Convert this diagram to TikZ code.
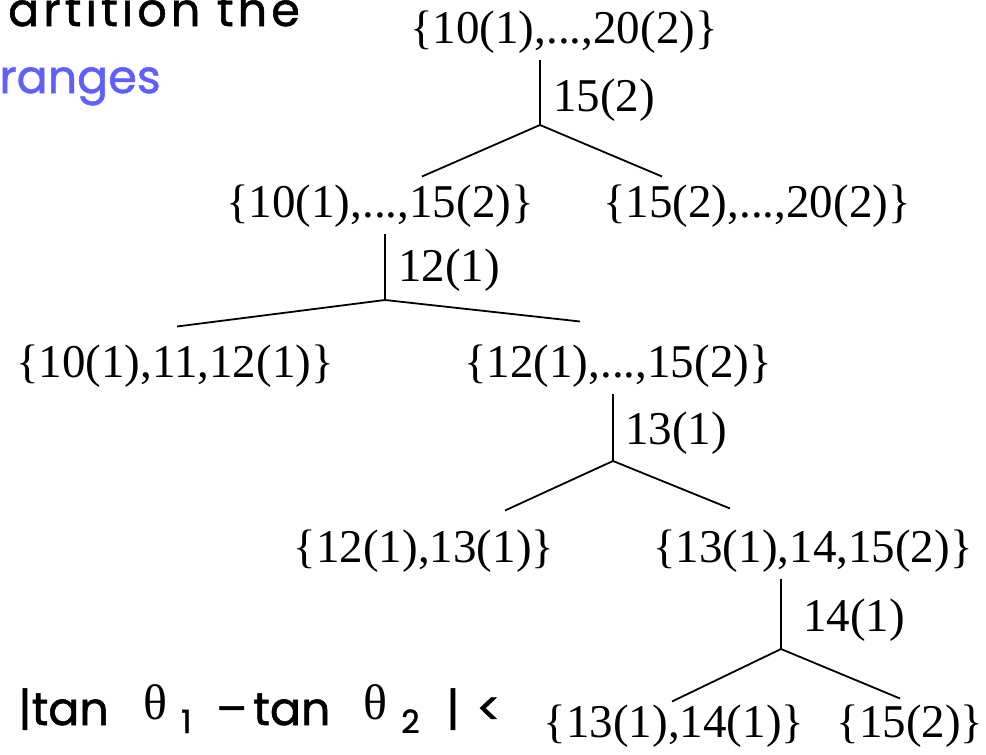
\documentclass[tikz,border=0pt]{standalone}
\usepackage{fontspec}
\setmainfont{Liberation Serif}
\newfontfamily\comicfont[FakeBold=1.2]{Poppins}
\usetikzlibrary{positioning,calc}

\definecolor{rangeblue}{RGB}{95,95,255}
\newcommand{\treefont}{\fontsize{47}{52}\selectfont}
\newcommand{\slidefont}{\comicfont\fontsize{46}{52}\selectfont}
\newcommand{\thetafont}{\rmfamily\fontsize{50}{50}\selectfont}
\newcommand{\subfont}{\fontsize{32}{32}\selectfont}

\tikzset{
  set/.style={font=\treefont, inner sep=0pt},
  cut/.style={font=\treefont, inner sep=0pt, anchor=west},
  slide/.style={font=\slidefont, inner sep=0pt, anchor=base west},
  branch/.style={line width=1.8pt}
}

\begin{document}
\begin{tikzpicture}[x=1pt,y=-1pt]
        \useasboundingbox[fill=white] (0,0) rectangle (986,755);
        % slide text
        \node[slide, anchor=base east] (title) at (300,26) {\addfontfeature{LetterSpace=9}artition the};
        \node[slide, anchor=base east, text=rangeblue] (ranges) at (161,93) {ranges};
        \node[slide] (ineq) at (18,725) {\makebox[125pt][l]{|tan}\makebox[38pt][l]{\raisebox{6pt}{\thetafont θ}}\makebox[35pt][l]{\raisebox{-8pt}{\subfont 1}}\makebox[37pt][l]{–}\makebox[110pt][l]{tan}\makebox[38pt][l]{\raisebox{6pt}{\thetafont θ}}\makebox[45pt][l]{\raisebox{-8pt}{\subfont 2}}\makebox[30pt][l]{|}<};
        % sets
        \node[set] (root) at (564,32) {\{10(1),...,20(2)\}};
        \node[set] (l) at (380,206) {\{10(1),...,15(2)\}};
        \node[set] (r) at (757,206) {\{15(2),...,20(2)\}};
        \node[set] (ll) at (175,366) {\{10(1),11,12(1)\}};
        \node[set] (lr) at (618,366) {\{12(1),...,15(2)\}};
        \node[set] (lrl) at (424,551) {\{12(1),13(1)\}};
        \node[set] (lrr) at (813,551) {\{13(1),14,15(2)\}};
        \node[set] (lrrl) at (674,726) {\{13(1),14(1)\}};
        \node[set] (lrrr) at (910,726) {\{15(2)\}};
        % split points
        \coordinate (s1) at (540,125);
        \coordinate (s2) at (385,300);
        \coordinate (s3) at (613,461);
        \coordinate (s4) at (781,649);
        \node[cut] (c1) at (553,100) {15(2)};
        \node[cut] (c2) at (398,270) {12(1)};
        \node[cut] (c3) at (625,433) {13(1)};
        \node[cut] (c4) at (803,620) {14(1)};
        % branches
        \draw[branch,shorten <=6pt] (root.south -| s1) -- (s1);
        \draw[branch] (s1) -- ([xshift=42pt,yshift=8pt]l.north);
        \draw[branch] (s1) -- ([xshift=-95pt,yshift=8pt]r.north);
        \draw[branch,shorten <=6pt] (l.south -| s2) -- (s2);
        \draw[branch] (s2) -- ([xshift=2pt,yshift=18pt]ll.north);
        \draw[branch] (s2) -- ([xshift=-38pt,yshift=23pt]lr.north);
        \draw[branch,shorten <=6pt] (lr.south -| s3) -- (s3);
        \draw[branch] (s3) -- ([xshift=81pt,yshift=19pt]lrl.north);
        \draw[branch] (s3) -- ([xshift=-83pt,yshift=21pt]lrr.north);
        \draw[branch,shorten <=6pt] (lrr.south -| s4) -- (s4);
        \draw[branch] (s4) -- ([xshift=-2pt,yshift=3pt]lrrl.north);
        \draw[branch] (s4) -- ([xshift=-10pt,yshift=6pt]lrrr.north);
      \end{tikzpicture}
\end{document}
